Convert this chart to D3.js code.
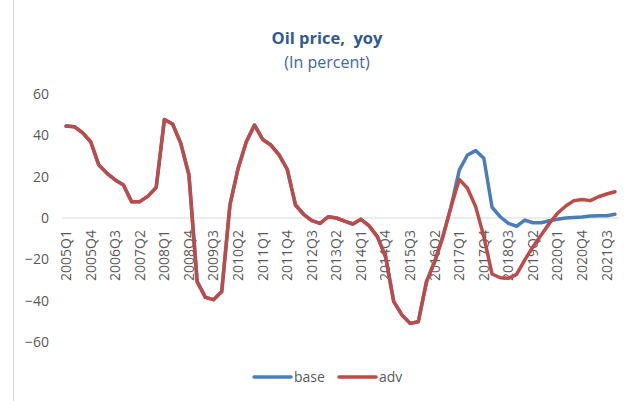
<!DOCTYPE html>
<html>
<head>
<meta charset="utf-8">
<script src="https://cdn.jsdelivr.net/npm/d3@7"></script>
<style>
  body { margin: 0; background: #fff; }
  svg { display: block; font-family: "Open Sans", sans-serif; }
</style>
</head>
<body>
<svg id="chart" width="634" height="401"></svg>
<script>
// quarters 2005Q1 .. 2021Q4
var years = d3.range(2005, 2022)
var quarters = ["Q1", "Q2", "Q3", "Q4"]
var categories = []
years.forEach(function(yr) { quarters.forEach(function(q) { categories.push(yr + q) }) })

var yTicks = [-60, -40, -20, 0, 20, 40, 60]
var seriesNames = ["base", "adv"]

var base = [44.5, 44.2, 41.3, 36.9, 25.6, 21.6, 18.4, 16.0, 7.9, 7.9, 10.6, 14.8,
            47.7, 45.5, 36.1, 20.8, -30.8, -38.4, -39.5, -35.6, 6.3, 24.0, 36.9, 45.0,
            38.0, 35.3, 30.5, 23.5, 6.3, 1.8, -1.3, -2.6, 0.6, 0.0, -1.5, -2.9,
            -0.6, -3.8, -9.0, -18.7, -40.5, -46.9, -51.0, -50.2, -30.8, -21.1, -9.0, 5.5,
            23.2, 30.5, 32.6, 28.9, 5.2, 0.6, -2.6, -4.0, -1.0, -2.3, -2.3, -1.3,
            -0.6, 0.0, 0.3, 0.5, 1.0, 1.1, 1.1, 1.8]

var adv = [44.5, 44.2, 41.3, 36.9, 25.6, 21.6, 18.4, 16.0, 7.9, 7.9, 10.6, 14.8,
           47.7, 45.5, 36.1, 20.8, -30.8, -38.4, -39.5, -35.6, 6.3, 24.0, 36.9, 45.0,
           38.0, 35.3, 30.5, 23.5, 6.3, 1.8, -1.3, -2.6, 0.6, 0.0, -1.5, -2.9,
           -0.6, -3.8, -9.0, -18.7, -40.5, -46.9, -51.0, -50.2, -30.8, -21.1, -9.0, 5.5,
           18.7, 14.4, 5.5, -9.0, -27.1, -28.9, -29.2, -27.3, -20.3, -13.9, -8.2, -2.6,
           2.3, 5.8, 8.4, 9.0, 8.4, 10.3, 11.6, 12.7]

var colors = {base: "#4a7ebb", adv: "#be4b48"}
var textGray = "#595959"

var svg = d3.select("#chart")

// chart area border (left edge only visible)
svg.append("line")
    .attr("x1", 13.5).attr("x2", 13.5)
    .attr("y1", 0).attr("y2", 401)
    .attr("stroke", "#d9d9d9")

var x = d3.scaleBand().domain(categories).range([62, 619]).padding(0)
var y = d3.scaleLinear().domain([-60, 60]).range([342, 94])
var cx = function(c) { return x(c) + x.bandwidth() / 2 }

// titles
svg.append("text")
    .attr("x", 327).attr("y", 44)
    .attr("text-anchor", "middle")
    .attr("font-size", 16.5).attr("font-weight", "bold")
    .attr("fill", "#2f5a93")
    .style("white-space", "pre")
    .text("Oil price,  yoy")
svg.append("text")
    .attr("x", 327).attr("y", 68)
    .attr("text-anchor", "middle")
    .attr("font-size", 16)
    .attr("fill", "#3f67a3")
    .text("(In percent)")

// y axis labels
var yAxis = svg.append("g")
    .attr("transform", "translate(62,0)")
    .call(d3.axisLeft(y).tickValues(yTicks).tickSize(0).tickPadding(13))
yAxis.select(".domain").remove()
yAxis.selectAll("text")
    .attr("font-family", "Open Sans, sans-serif")
    .attr("font-size", 14)
    .attr("fill", textGray)

// zero line
svg.append("line")
    .attr("x1", 62).attr("x2", 619)
    .attr("y1", y(0)).attr("y2", y(0))
    .attr("stroke", "#d9d9d9").attr("stroke-width", 1)

// x axis labels, every third quarter
var xAxis = svg.append("g")
    .attr("transform", "translate(0," + y(0) + ")")
    .call(d3.axisBottom(x)
        .tickValues(categories.filter(function(d, i) { return i % 3 === 0 }))
        .tickSize(0))
xAxis.select(".domain").remove()
xAxis.selectAll("text")
    .attr("font-family", "Open Sans, sans-serif")
    .attr("font-size", 14)
    .attr("fill", textGray)
    .attr("text-anchor", "end")
    .attr("transform", "rotate(-90)")
    .attr("x", -12)
    .attr("y", 0)
    .attr("dy", "0.35em")

// lines
var line = d3.line()
    .x(function(d, i) { return cx(categories[i]) })
    .y(function(d) { return y(d) })

var seriesData = {base: base, adv: adv}
seriesNames.forEach(function(name) {
    svg.append("path")
        .datum(seriesData[name])
        .attr("fill", "none")
        .attr("stroke", colors[name])
        .attr("stroke-width", 3.5)
        .attr("stroke-linejoin", "round")
        .attr("stroke-linecap", "round")
        .attr("d", line)
})

// legend
var legendX = [254, 339]
var legend = svg.append("g")
seriesNames.forEach(function(name, i) {
    legend.append("line")
        .attr("x1", legendX[i]).attr("x2", legendX[i] + 37)
        .attr("y1", 377).attr("y2", 377)
        .attr("stroke", colors[name])
        .attr("stroke-width", 3.5)
        .attr("stroke-linecap", "round")
    legend.append("text")
        .attr("x", legendX[i] + 40).attr("y", 382)
        .attr("font-size", 14)
        .attr("fill", textGray)
        .text(name)
})
</script>
</body>
</html>
